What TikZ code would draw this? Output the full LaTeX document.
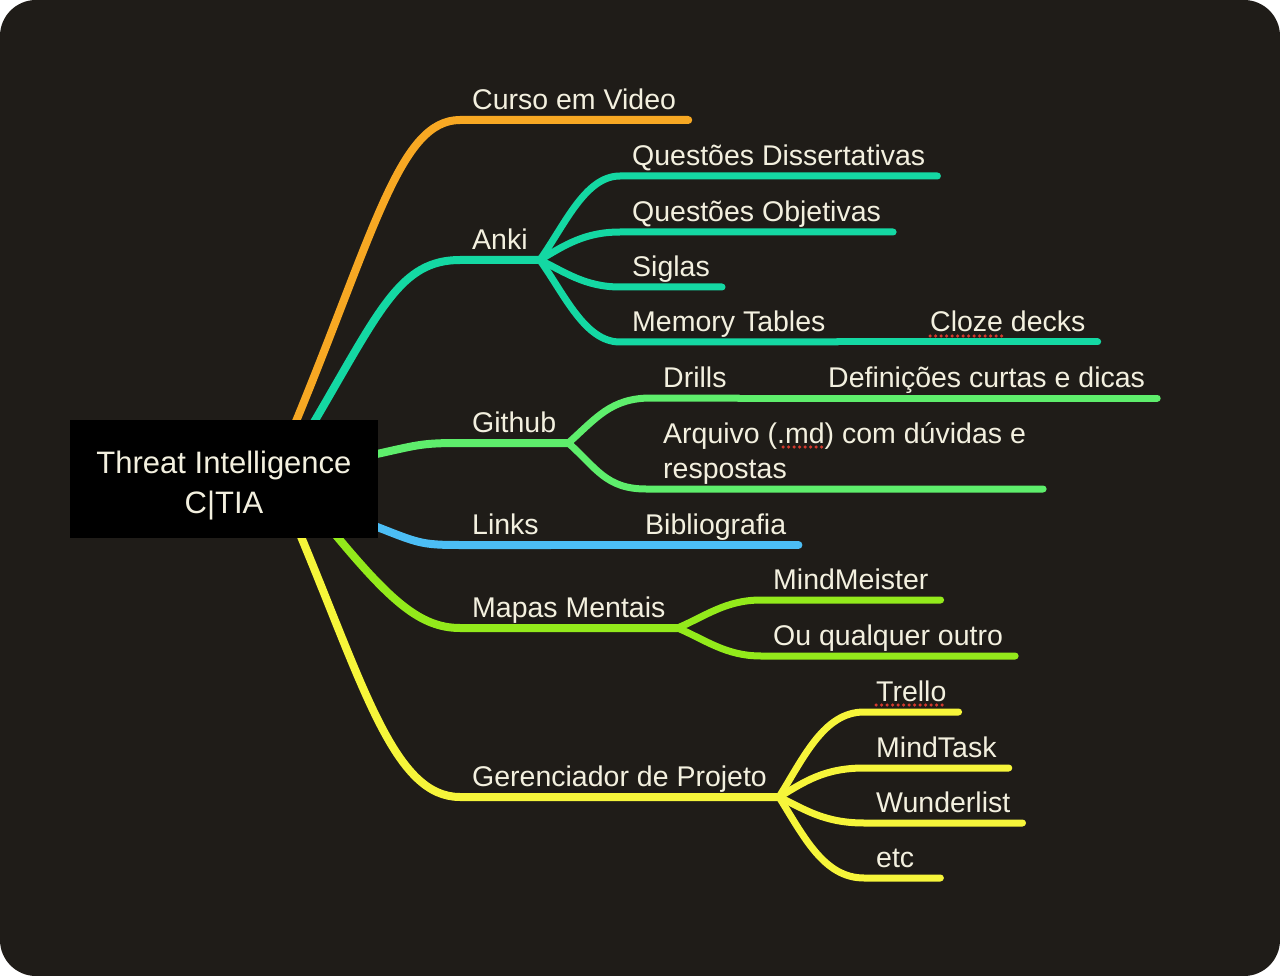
\documentclass[tikz,border=0pt]{standalone}
\usepackage{fontspec}
\setmainfont{Liberation Sans}
\usetikzlibrary{calc}

\definecolor{bgdark}{HTML}{1F1C18}
\definecolor{labeltext}{HTML}{F3F0DF}
\definecolor{videoorange}{HTML}{F7A823}
\definecolor{ankiteal}{HTML}{14D8A3}
\definecolor{githubgreen}{HTML}{5EEE6C}
\definecolor{linksblue}{HTML}{4CBEF5}
\definecolor{mapslime}{HTML}{93EA1B}
\definecolor{projyellow}{HTML}{F6F53A}
\definecolor{spellred}{HTML}{D23A2E}

\newcommand{\mapfont}{\fontsize{28.5}{35}\selectfont}
\newcommand{\rootfont}{\fontsize{31}{40}\selectfont}

\pgfdeclarelayer{back}
\pgfsetlayers{back,main}

\tikzset{
  topic/.style={anchor=south west, inner xsep=12pt, inner ysep=10pt, text depth=0pt, text=labeltext, font=\mapfont},
  mainline/.style={line width=8pt, line cap=round, line join=round},
  subline/.style={line width=7pt, line cap=round, line join=round},
  spell/.style={spellred, line width=3.5pt, line cap=round, dash pattern=on 0pt off 5.5pt}
}

\begin{document}
\begin{tikzpicture}[x=1pt, y=-1pt]
  \useasboundingbox (0,0) rectangle (1280,976);
  % dark rounded page
  \begin{pgfonlayer}{back}
    \fill[white] (0,0) rectangle (1280,976);
    \fill[bgdark, rounded corners=36pt] (0,0) rectangle (1280,976);
  \end{pgfonlayer}

  % central topic
  \node[fill=black, minimum width=308pt, minimum height=118pt, inner sep=0pt, align=center, text=labeltext, font=\rootfont] (root) at (224,479) {\rule{0pt}{35pt}Threat Intelligence\\C|TIA};

  % first level topics
  \node[topic] (curso) at (460,120) {Curso em Video};
  \node[topic] (anki) at (460,260) {Anki};
  \node[topic] (github) at (460,443) {Github};
  \node[topic] (links) at (460,545) {Links};
  \node[topic] (mapas) at (460,628) {Mapas Mentais};
  \node[topic] (gerenc) at (460,797) {Gerenciador de Projeto};

  % anki topics
  \node[topic] (dissert) at (620,176) {Questões Dissertativas};
  \node[topic] (objet) at (620,232) {Questões Objetivas};
  \node[topic] (siglas) at (620,287) {Siglas};
  \node[topic] (memtab) at (620,342) {Memory Tables};
  \node[topic] (cloze) at (918,342) {Cloze decks};

  % github topics
  \node[topic] (drills) at (651,398) {Drills};
  \node[topic] (defin) at (816,398) {Definições curtas e dicas};
  \node[topic, inner xsep=17pt] (arquivo) at (646,489) {\begin{tabular}[b]{@{}l@{}}Arquivo (.md) com dúvidas e\\respostas\end{tabular}};

  % links, mapas and projeto topics
  \node[topic] (biblio) at (633,545) {Bibliografia};
  \node[topic] (meister) at (761,600) {MindMeister};
  \node[topic] (outro) at (761,656) {Ou qualquer outro};
  \node[topic] (trello) at (864,712) {Trello};
  \node[topic] (mindtask) at (864,768) {MindTask};
  \node[topic] (wunder) at (864,823) {Wunderlist};
  \node[topic, text width=52pt] (etc) at (864,878) {etc};

  \begin{pgfonlayer}{back}
    % branches from the central topic
    \draw[mainline, videoorange] ($(root.north)+(71,4)$) .. controls +(80,-194) and +(-60,0) .. (curso.south west) -- (curso.south east);
    \draw[mainline, ankiteal] ($(root.north)+(89,4)$) .. controls +(67,-114) and +(-60,0) .. (anki.south west) -- (anki.south east);
    \draw[mainline, githubgreen] ($(root.east)+(-6,-24)$) .. controls +(46,-10) and +(-40,0) .. (github.south west) -- (github.south east);
    \draw[mainline, linksblue] ($(root.east)+(-6,46)$) .. controls +(46,18) and +(-40,0) .. (links.south west) -- (links.south east);
    \draw[mainline, mapslime] ($(root.south)+(111,-4)$) .. controls +(55,66) and +(-40,0) .. (mapas.south west) -- (mapas.south east);
    \draw[mainline, projyellow] ($(root.south)+(76,-4)$) .. controls +(65,156) and +(-65,0) .. (gerenc.south west) -- (gerenc.south east);

    % anki fan
    \draw[subline, ankiteal] (anki.south east) .. controls +(25,-35) and +(-35,0) .. (dissert.south west) -- (dissert.south east);
    \draw[subline, ankiteal] (anki.south east) .. controls +(25,-15) and +(-35,0) .. (objet.south west) -- (objet.south east);
    \draw[subline, ankiteal] (anki.south east) .. controls +(25,12) and +(-35,0) .. (siglas.south west) -- (siglas.south east);
    \draw[subline, ankiteal] (anki.south east) .. controls +(25,35) and +(-35,0) .. (memtab.south west) -- (memtab.south east);
    \draw[subline, ankiteal] (memtab.south east) -- (cloze.south west) -- (cloze.south east);

    % github fan
    \draw[subline, githubgreen] (github.south east) .. controls +(28,-25) and +(-40,0) .. (drills.south west) -- (drills.south east);
    \draw[subline, githubgreen] (github.south east) .. controls +(28,25) and +(-40,0) .. (arquivo.south west) -- (arquivo.south east);
    \draw[subline, githubgreen] (drills.south east) -- (defin.south west) -- (defin.south east);

    % links chain
    \draw[mainline, linksblue] (links.south east) -- (biblio.south west) -- (biblio.south east);

    % mapas fan
    \draw[subline, mapslime] (mapas.south east) .. controls +(28,-12) and +(-35,0) .. (meister.south west) -- (meister.south east);
    \draw[subline, mapslime] (mapas.south east) .. controls +(28,12) and +(-35,0) .. (outro.south west) -- (outro.south east);

    % projeto fan
    \draw[subline, projyellow] (gerenc.south east) .. controls +(25,-40) and +(-40,0) .. (trello.south west) -- (trello.south east);
    \draw[subline, projyellow] (gerenc.south east) .. controls +(25,-15) and +(-40,0) .. (mindtask.south west) -- (mindtask.south east);
    \draw[subline, projyellow] (gerenc.south east) .. controls +(25,12) and +(-40,0) .. (wunder.south west) -- (wunder.south east);
    \draw[subline, projyellow] (gerenc.south east) .. controls +(25,40) and +(-40,0) .. (etc.south west) -- (etc.south east);
  \end{pgfonlayer}

  % spell check marks
  \draw[spell] ($(cloze.south west)+(12,-6)$) -- +(73,0);
  \draw[spell] ($(arquivo.south west)+(137,-42)$) -- +(42,0);
  \draw[spell] ($(trello.south west)+(12,-7)$) -- +(67,0);
\end{tikzpicture}
\end{document}
